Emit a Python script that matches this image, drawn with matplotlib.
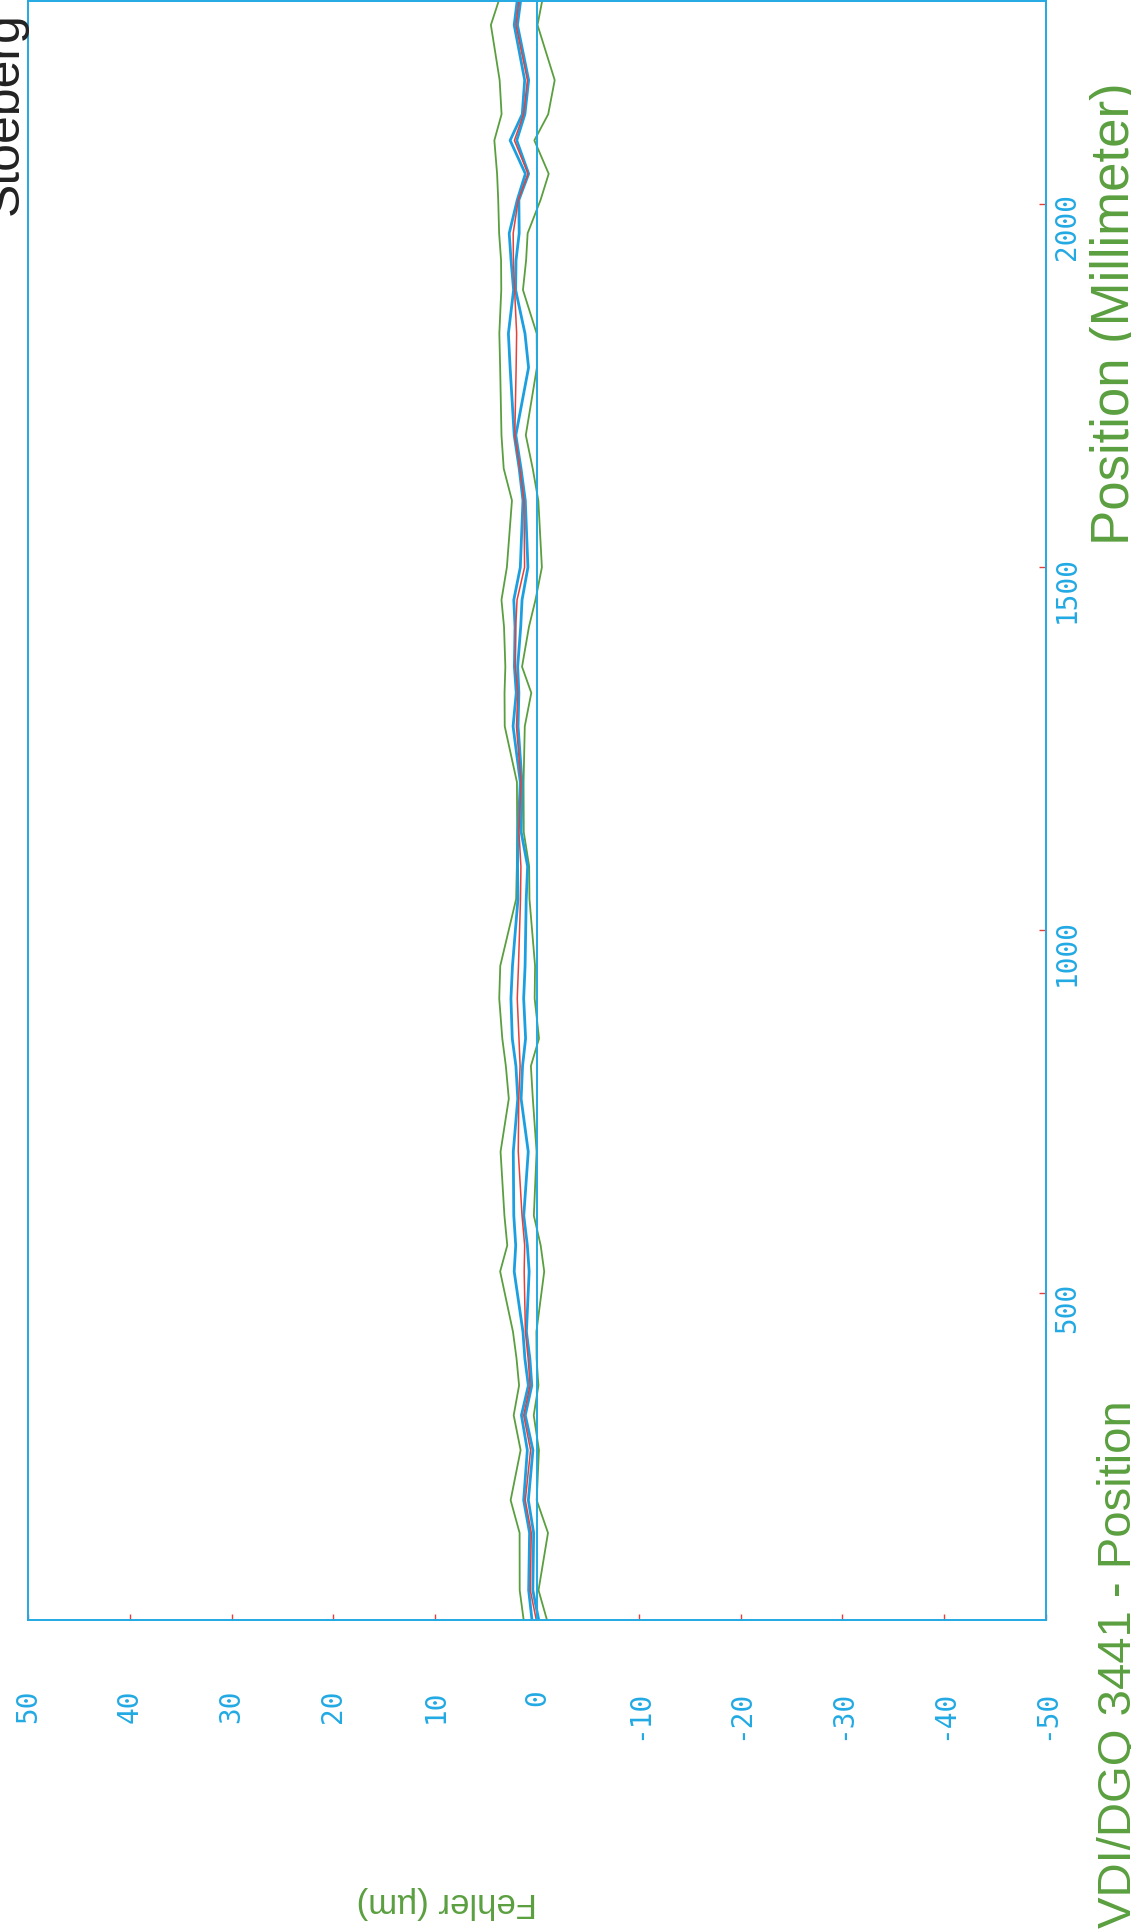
import matplotlib
matplotlib.use("Agg")
import matplotlib.pyplot as plt
from matplotlib import font_manager

# VDI/DGQ 3441 positioning error, scanned page turned by 90 degrees:
# Fehler runs left (+50) to right (-50), position runs bottom to top.
position = [50, 91, 170, 215, 284, 332, 373, 410, 447, 530, 566, 607, 695,
            768, 813, 851, 906, 951, 1043, 1088, 1135, 1204, 1281, 1327,
            1363, 1418, 1455, 1500, 1592, 1636, 1682, 1775, 1822, 1882,
            1923, 1960, 2006, 2042, 2088, 2124, 2171, 2247, 2281]

green_upper = [1.31, 1.70, 1.71, 2.59, 1.61, 2.29, 1.76, 2.01, 2.36, 3.62, 2.92,
               3.20, 3.58, 2.77, 3.06, 3.41, 3.71, 3.61, 2.05, 1.98, 1.95, 1.97,
               3.17, 3.19, 3.11, 3.24, 3.49, 2.96, 2.46, 3.27, 3.49, 3.62, 3.70,
               3.51, 3.53, 3.72, 3.81, 3.92, 4.19, 3.48, 3.67, 4.53, 3.74]
blue_upper = [0.49, 0.82, 0.73, 1.31, 0.95, 1.53, 0.85, 1.19, 1.38, 2.24, 2.09,
              2.28, 2.33, 1.89, 2.07, 2.43, 2.56, 2.41, 1.87, 1.91, 1.87, 1.64,
              2.35, 2.04, 2.22, 2.16, 2.28, 1.64, 1.38, 1.75, 2.24, 2.64, 2.81,
              2.30, 2.55, 2.73, 1.94, 1.14, 2.64, 1.45, 1.21, 2.24, 1.94]
mean_dev = [0.07, 0.66, 0.56, 1.15, 0.63, 1.31, 0.68, 0.87, 1.14, 1.26, 1.21,
            1.47, 1.84, 1.79, 1.66, 1.77, 1.94, 1.82, 1.62, 1.58, 1.77, 1.57,
            2.02, 1.88, 2.12, 2.09, 1.96, 1.22, 1.28, 1.68, 2.18, 2.05, 2.00,
            2.20, 2.32, 2.34, 1.84, 0.88, 2.22, 1.32, 0.94, 2.07, 1.77]
blue_lower = [-0.17, 0.41, 0.33, 0.85, 0.40, 1.15, 0.51, 0.70, 1.04, 0.77, 0.95,
              1.30, 0.86, 1.56, 1.42, 1.12, 1.31, 1.17, 1.06, 0.92, 1.55, 1.47,
              1.86, 1.78, 1.90, 1.60, 1.47, 0.89, 1.15, 1.57, 2.08, 0.83, 1.18,
              2.10, 2.06, 1.75, 1.78, 0.82, 1.99, 1.19, 0.82, 1.92, 1.60]
green_lower = [-0.98, -0.15, -1.08, 0.03, -0.19, 0.32, -0.14, 0.04, 0.06, -0.71,
               -0.36, 0.31, 0.04, 0.41, 0.60, -0.20, 0.23, 0.19, 0.74, 0.77, 1.30,
               1.32, 1.20, 0.56, 1.47, 0.79, 0.15, -0.48, -0.13, 0.42, 1.10, 0.01,
               0.03, 1.38, 1.07, 0.92, -0.35, -1.15, 0.26, -1.10, -1.74, -0.05,
               -0.52]

fehler_ticks = [50, 40, 30, 20, 10, 0, -10, -20, -30, -40, -50]
position_ticks = [500, 1000, 1500, 2000]

CYAN = "#22a9e3"
GREEN = "#5a9f3f"
BLUE = "#1c9fe0"
RED = "#e6403a"


def pick_font(names, fallback):
    installed = {f.name for f in font_manager.fontManager.ttflist}
    for n in names:
        if n in installed:
            return n
    return fallback


def main():
    W, H = 1131, 1932
    mono = pick_font(["DejaVu Sans Mono"], "Liberation Mono")
    sans = pick_font(["Liberation Sans"], "DejaVu Sans")

    fig = plt.figure(figsize=(W / 100, H / 100), dpi=100)
    fig.patch.set_facecolor("white")
    ax = fig.add_axes([28 / W, 312 / H, 1018 / W, 1619 / H])

    ax.plot(green_upper, position, color=GREEN, lw=1.3)
    ax.plot(green_lower, position, color=GREEN, lw=1.3)
    ax.plot(blue_upper, position, color=BLUE, lw=2.0)
    ax.plot(blue_lower, position, color=BLUE, lw=2.0)
    ax.plot(mean_dev, position, color=RED, lw=1.1)
    ax.axvline(0, color=CYAN, lw=1.4)

    ax.set_xlim(50, -50)
    ax.set_ylim(50, 2280)

    for s in ax.spines.values():
        s.set_color(CYAN)
        s.set_linewidth(1.4)

    ax.set_xticks(fehler_ticks)
    ax.set_xticklabels([str(t) for t in fehler_ticks])
    ax.tick_params(axis="x", direction="in", length=4, width=1, color=RED,
                   labelcolor=CYAN, labelrotation=90, pad=50, labelsize=20)
    for lab in ax.get_xticklabels():
        lab.set_family(mono)

    ax.yaxis.tick_right()
    ax.set_yticks(position_ticks)
    ax.set_yticklabels([str(t) for t in position_ticks])
    ax.tick_params(axis="y", direction="in", length=5, width=1, color=RED,
                   labelcolor=CYAN, labelrotation=90, pad=5, labelsize=20)
    for lab in ax.get_yticklabels():
        lab.set_family(mono)

    # axis titles and page texts, all turned with the page
    fig.text(447 / W, 1 - 1902 / H, "Fehler (µm)", rotation=180, color=GREEN,
             fontsize=25, family=sans, ha="center", va="center")
    fig.text(1129 / W, 1 - 545 / H, "Position (Millimeter)", rotation=90,
             rotation_mode="anchor", ha="left", va="baseline", color=GREEN,
             fontsize=38, family=sans)
    fig.text(1131 / W, 4 / H, "VDI/DGQ 3441 - Position", rotation=90,
             rotation_mode="anchor", ha="left", va="baseline", color=GREEN,
             fontsize=34, family=sans)
    fig.text(18 / W, 1 - 215 / H, "Stoeberg", rotation=90,
             rotation_mode="anchor", ha="left", va="baseline", color="#222222",
             fontsize=36, family=sans)

    fig.savefig("out.png", dpi=100, facecolor="white")


if __name__ == "__main__":
    main()
